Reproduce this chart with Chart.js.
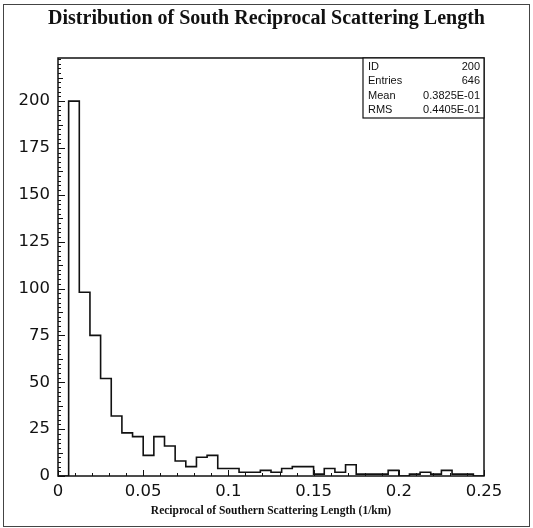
<!DOCTYPE html>
<html>
<head>
<meta charset="utf-8">
<script src="https://cdn.jsdelivr.net/npm/chart.js@4.4.1/dist/chart.umd.min.js"></script>
<style>
  html, body { margin: 0; padding: 0; background: #fff; }
</style>
</head>
<body>
<canvas id="histo" width="533" height="528"></canvas>
<script>
// histogram: 40 bins of width 0.00625 between 0 and 0.25
const binWidth = 0.00625;
const binCounts = [0, 200, 98, 75, 52, 32, 23, 21, 11, 21,
                   16, 8, 5, 10, 11, 4, 4, 2, 2, 3,
                   2, 4, 5, 5, 1, 4, 2, 6, 1, 1,
                   1, 3, 0, 1, 2, 1, 3, 1, 1, 0];
const xTickLabels = ['0', '0.05', '0.1', '0.15', '0.2', '0.25'];
const yTickLabels = ['0', '25', '50', '75', '100', '125', '150', '175', '200'];
const statNames = ['ID', 'Entries', 'Mean', 'RMS'];
const statValues = ['200', '646', '0.3825E-01', '0.4405E-01'];

const points = binCounts.map((c, i) => ({ x: i * binWidth, y: c }));
points.push({ x: binCounts.length * binWidth, y: 0 });

const ink = '#111';

// frame, inward ticks, stats box, page border
const paw = {
    id: 'paw',
    afterDraw(chart) {
        const c = chart.ctx;
        const a = chart.chartArea;
        const xs = chart.scales.x;
        const ys = chart.scales.y;
        c.save();
        c.strokeStyle = ink;
        c.lineWidth = 1.5;
        c.strokeRect(a.left, a.top, a.right - a.left, a.bottom - a.top);

        c.lineWidth = 1;
        c.beginPath();
        for (let k = 0; k <= 25; k++) {
            const px = Math.round(xs.getPixelForValue(k / 100)) + 0.5;
            const len = k % 5 === 0 ? 6 : 3;
            c.moveTo(px, a.bottom);
            c.lineTo(px, a.bottom - len);
        }
        for (let k = 0; k * 2.5 < ys.max; k++) {
            const py = Math.round(ys.getPixelForValue(k * 2.5)) + 0.5;
            const len = k % 10 === 0 ? 7 : (k % 5 === 0 ? 5 : 3);
            c.moveTo(a.left, py);
            c.lineTo(a.left + len, py);
        }
        c.stroke();

        // stats box
        const bw = 121, bh = 60;
        const bx = a.right - bw, by = a.top;
        c.fillStyle = '#fff';
        c.fillRect(bx, by, bw, bh);
        c.lineWidth = 1.2;
        c.strokeRect(bx, by, bw, bh);
        c.fillStyle = ink;
        c.font = '11px "Liberation Sans"';
        c.textBaseline = 'middle';
        statNames.forEach((name, i) => {
            const ty = by + 8.5 + i * 14.5;
            c.textAlign = 'left';
            c.fillText(name, bx + 5, ty);
            c.textAlign = 'right';
            c.fillText(statValues[i], a.right - 4, ty);
        });

        // outer page border
        c.strokeStyle = '#444';
        c.lineWidth = 1;
        c.strokeRect(3.5, 4.5, 526, 522);
        c.restore();
    }
};

new Chart(document.getElementById('histo'), {
    type: 'line',
    data: {
        datasets: [{
            data: points,
            stepped: 'before',
            borderColor: ink,
            borderWidth: 1.6,
            pointRadius: 0,
            fill: false
        }]
    },
    options: {
        responsive: false,
        animation: false,
        devicePixelRatio: 1,
        layout: { padding: 0 },
        plugins: {
            legend: { display: false },
            tooltip: { enabled: false },
            title: {
                display: true,
                text: 'Distribution of South Reciprocal Scattering Length',
                color: ink,
                font: { family: '"Liberation Serif"', weight: 'bold', size: 20 },
                padding: { top: 7, bottom: 27 }
            }
        },
        scales: {
            x: {
                type: 'linear',
                min: 0,
                max: 0.25,
                grid: { display: false, drawTicks: false },
                border: { display: false },
                ticks: {
                    stepSize: 0.05,
                    color: ink,
                    padding: 6,
                    font: { family: '"DejaVu Sans"', size: 16.5 },
                    callback: (v, i) => xTickLabels[i]
                },
                title: {
                    display: true,
                    text: 'Reciprocal of Southern Scattering Length (1/km)',
                    color: ink,
                    font: { family: '"Liberation Serif"', weight: 'bold', size: 11.5 },
                    padding: { top: 0, bottom: 10 }
                },
                afterFit: s => { s.height = 52; }
            },
            y: {
                min: 0,
                max: 223,
                grid: { display: false, drawTicks: false },
                border: { display: false },
                ticks: {
                    stepSize: 25,
                    includeBounds: false,
                    color: ink,
                    padding: 8,
                    font: { family: '"DejaVu Sans"', size: 16.5 },
                    callback: (v, i) => yTickLabels[i]
                },
                afterFit: s => { s.width = 58; }
            },
            // empty right margin, keeps the title centred on the page
            yRight: {
                position: 'right',
                display: true,
                grid: { display: false, drawTicks: false },
                border: { display: false },
                ticks: { display: false },
                afterFit: s => { s.width = 49; }
            }
        }
    },
    plugins: [paw]
});
</script>
</body>
</html>
